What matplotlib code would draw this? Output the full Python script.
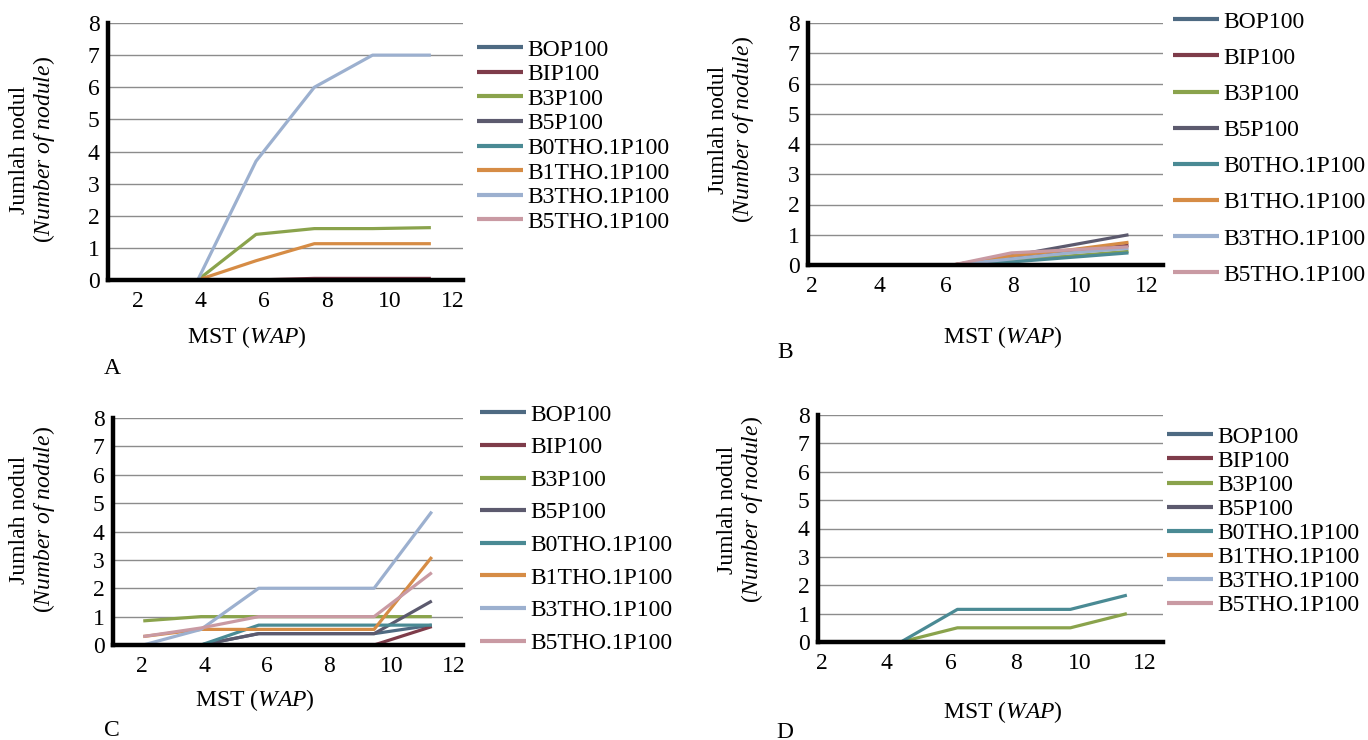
import matplotlib
matplotlib.use('Agg')
import matplotlib.pyplot as plt

plt.rcParams['font.family'] = ['Liberation Serif', 'DejaVu Serif']
plt.rcParams['mathtext.fontset'] = 'custom'
plt.rcParams['mathtext.rm'] = 'Liberation Serif'
plt.rcParams['mathtext.it'] = 'Liberation Serif:italic'

series = ['BOP100', 'BIP100', 'B3P100', 'B5P100',
          'B0THO.1P100', 'B1THO.1P100', 'B3THO.1P100', 'B5THO.1P100']
colors = ['#4e6a82', '#7e3c4a', '#8aa34c', '#5c5a6e',
          '#4a8a94', '#d68c45', '#9cb0cf', '#c99aa3']

x_ac = [2.05, 3.9, 5.75, 7.6, 9.45, 11.3]
x_bd = [2.7, 4.45, 6.2, 7.95, 9.7, 11.45]
xticks = [2, 4, 6, 8, 10, 12]
yticks = [0, 1, 2, 3, 4, 5, 6, 7, 8]

# values per series, in legend order
a_vals = [
    [0, 0, 0, 0, 0, 0],
    [0, 0, 0, 0.05, 0.05, 0.05],
    [0, 0, 1.42, 1.6, 1.6, 1.63],
    [0, 0, 0, 0, 0, 0],
    [0, 0, 0, 0, 0, 0],
    [0, 0, 0.6, 1.13, 1.13, 1.13],
    [0, 0, 3.7, 6.0, 7.0, 7.0],
    [0, 0, 0, 0, 0, 0],
]
b_vals = [
    [0, 0, 0, 0, 0, 0],
    [0, 0, 0, 0.25, 0.45, 0.65],
    [0, 0, 0, 0.15, 0.3, 0.45],
    [0, 0, 0, 0.3, 0.65, 1.0],
    [0, 0, 0, 0.1, 0.25, 0.4],
    [0, 0, 0, 0.3, 0.5, 0.75],
    [0, 0, 0, 0.2, 0.4, 0.55],
    [0, 0, 0, 0.4, 0.5, 0.6],
]
c_vals = [
    [0, 0, 0.4, 0.4, 0.4, 0.7],
    [0, 0, 0, 0, 0, 0.65],
    [0.85, 1.0, 1.0, 1.0, 1.0, 1.0],
    [0, 0, 0.4, 0.4, 0.4, 1.55],
    [0, 0, 0.7, 0.7, 0.7, 0.7],
    [0.3, 0.55, 0.55, 0.55, 0.55, 3.1],
    [0, 0.55, 2.0, 2.0, 2.0, 4.7],
    [0.3, 0.6, 1.0, 1.0, 1.0, 2.55],
]
d_vals = [
    [0, 0, 0, 0, 0, 0],
    [0, 0, 0, 0, 0, 0],
    [0, 0, 0.5, 0.5, 0.5, 1.0],
    [0, 0, 0, 0, 0, 0],
    [0, 0, 1.15, 1.15, 1.15, 1.65],
    [0, 0, 0, 0, 0, 0],
    [0, 0, 0, 0, 0, 0],
    [0, 0, 0, 0, 0, 0],
]

W, H = 1368, 740
fig = plt.figure(figsize=(W / 100, H / 100), dpi=100)
FS = 17


def px_axes(l, r, t, b):
    return fig.add_axes([l / W, 1 - b / H, (r - l) / W, (b - t) / H])


# (axes box px, xlim, x, values, legend top-left px, labelspacing, ylabel px, xlabel px, letter px, letter)
panels = [
    ((108, 463, 23, 280), (1.05, 12.32), x_ac, a_vals, (477, 39), 0.13, (33, 150), (247, 337), (112, 368), 'A'),
    ((808, 1163, 23, 265), (1.88, 12.48), x_bd, b_vals, (1173, 11), 0.62, (732, 130), (1003, 337), (785, 352), 'B'),
    ((113, 463, 418, 645), (1.08, 12.3), x_ac, c_vals, (480, 404), 0.47, (33, 520), (255, 700), (112, 730), 'C'),
    ((818, 1163, 415, 642), (1.88, 12.57), x_bd, d_vals, (1167, 426), 0.11, (741, 510), (1003, 712), (785, 732), 'D'),
]

for box, xlim, xs, vals, leg, lsp, ylab, xlab, let, letter in panels:
    ax = px_axes(*box)
    for name, col, v in zip(series, colors, vals):
        ax.plot(xs, v, color=col, lw=2.3, label=name, solid_capstyle='butt')
    ax.set_xlim(*xlim)
    ax.set_ylim(0, 8)
    ax.set_xticks(xticks)
    ax.set_yticks(yticks)
    ax.tick_params(length=0, labelsize=FS)
    ax.tick_params(axis='x', pad=8)
    ax.tick_params(axis='y', pad=6)
    ax.yaxis.grid(True, color='#8c8c8c', lw=1)
    ax.set_axisbelow(True)
    for s in ['top', 'right']:
        ax.spines[s].set_visible(False)
    for s in ['left', 'bottom']:
        ax.spines[s].set_linewidth(3.2)
        ax.spines[s].set_color('black')
        ax.spines[s].set_zorder(5)

    lg = ax.legend(loc='upper left', bbox_to_anchor=(leg[0] / W, 1 - leg[1] / H),
                   bbox_transform=fig.transFigure, frameon=False, fontsize=FS,
                   handlelength=1.95, handletextpad=0.2, labelspacing=lsp,
                   borderpad=0, borderaxespad=0)
    for h in lg.get_lines():
        h.set_linewidth(3)

    fig.text(ylab[0] / W, 1 - ylab[1] / H,
             'Jumlah nodul\n($\\it{Number\\ of\\ nodule}$)',
             rotation=90, ha='center', va='center', multialignment='center',
             fontsize=FS, linespacing=1.1)
    fig.text(xlab[0] / W, 1 - xlab[1] / H, 'MST ($\\it{WAP}$)',
             ha='center', va='center', fontsize=FS)
    fig.text(let[0] / W, 1 - let[1] / H, letter, ha='center', va='center', fontsize=FS)

fig.savefig('out.png', dpi=100)
